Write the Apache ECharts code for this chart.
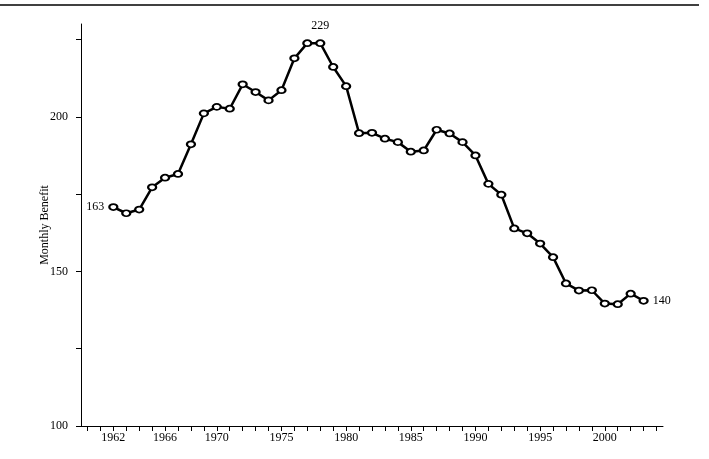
<!DOCTYPE html>
<html>
<head>
<meta charset="utf-8">
<script src="https://cdn.jsdelivr.net/npm/echarts@6/dist/echarts.min.js"></script>
<style>html,body{margin:0;padding:0;background:#fff;}#c{width:709px;height:459px;}</style>
</head>
<body>
<div id="c"></div>
<script>
var years = [1962,1963,1964,1965,1966,1967,1968,1969,1970,1971,1972,1973,1974,1975,1976,1977,1978,1979,1980,1981,1982,1983,1984,1985,1986,1987,1988,1989,1990,1991,1992,1993,1994,1995,1996,1997,1998,1999,2000,2001,2002,2003];
var benefit = [170.8,168.8,170.0,177.2,180.3,181.5,191.1,201.1,203.2,202.6,210.5,208.0,205.3,208.6,218.9,223.8,223.8,216.1,209.9,194.7,194.8,192.9,191.8,188.7,189.1,195.8,194.6,191.8,187.5,178.3,174.8,163.9,162.3,159.0,154.6,146.1,143.8,143.9,139.6,139.4,142.8,140.5];
var xTickYears = [1960,1961,1962,1963,1964,1965,1966,1967,1968,1969,1970,1971,1972,1973,1974,1975,1976,1977,1978,1979,1980,1981,1982,1983,1984,1985,1986,1987,1988,1989,1990,1991,1992,1993,1994,1995,1996,1997,1998,1999,2000,2001,2002,2003,2004];
var xLabelYears = [1962,1966,1970,1975,1980,1985,1990,1995,2000];
var yTicks = [100,125,150,175,200,225];
var yLabels = [100,150,200];
var pointLabels = {1962: {text: '163', pos: 'left'}, 1978: {text: '229', pos: 'top'}, 2003: {text: '140', pos: 'right'}};

var font = '"Liberation Serif", "Times New Roman", serif';
var data = years.map(function (y, i) {
  var d = {value: [y, benefit[i]]};
  if (pointLabels[y]) {
    d.label = {show: true, formatter: pointLabels[y].text, position: pointLabels[y].pos,
      distance: pointLabels[y].pos === 'top' ? 7 : 4};
  }
  return d;
});

var chart = echarts.init(document.getElementById('c'), null, {renderer: 'canvas'});
chart.setOption({
  animation: false,
  backgroundColor: '#fff',
  grid: {left: 81, right: 46, top: 24, bottom: 33, containLabel: false},
  graphic: [{type: 'line', shape: {x1: 0, y1: 5, x2: 699, y2: 5}, style: {stroke: '#000', lineWidth: 1.5}}],
  xAxis: {
    type: 'value', min: 1959.5, max: 2004.5,
    axisLine: {show: true, lineStyle: {color: '#000', width: 1}},
    axisTick: {show: true, length: 5, lineStyle: {color: '#000'}, customValues: xTickYears},
    axisLabel: {color: '#000', fontFamily: font, fontSize: 12, margin: 6, customValues: xLabelYears,
      formatter: function (v) { return String(v); }},
    splitLine: {show: false}
  },
  yAxis: {
    type: 'value', min: 100, max: 230,
    name: 'Monthly Benefit', nameLocation: 'middle', nameGap: 30, nameMoveOverlap: false,
    nameTextStyle: {color: '#000', fontFamily: font, fontSize: 12},
    axisLine: {show: true, lineStyle: {color: '#000', width: 1}},
    axisTick: {show: true, length: 5, lineStyle: {color: '#000'}, customValues: yTicks},
    axisLabel: {color: '#000', fontFamily: font, fontSize: 12, margin: 13, customValues: yLabels},
    splitLine: {show: false}
  },
  series: [{
    type: 'line', data: data,
    symbol: 'emptyCircle', symbolSize: [8, 6],
    lineStyle: {color: '#000', width: 2.5},
    itemStyle: {color: '#000', borderColor: '#000', borderWidth: 0.8},
    label: {color: '#000', fontFamily: font, fontSize: 12},
    z: 3
  }]
});
</script>
</body>
</html>
